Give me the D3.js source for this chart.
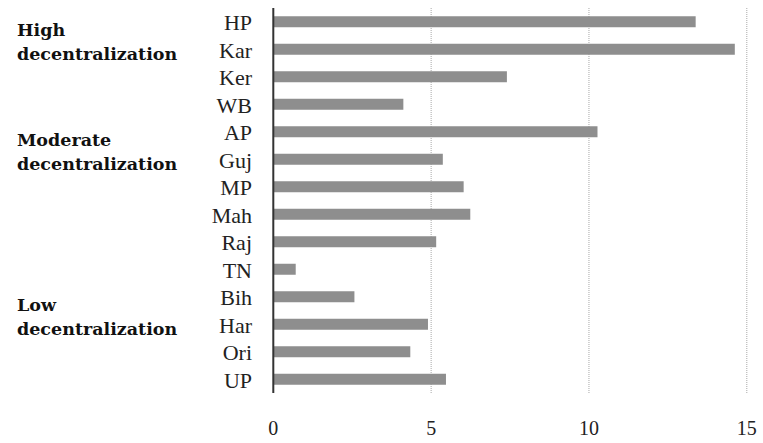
<!DOCTYPE html>
<html>
  <head>
    <meta charset="utf-8">
    <style>
      body { margin: 0; background: #fff; }
      .grid line { stroke: #a8a8a8; stroke-width: 1; stroke-dasharray: 1,1; }
      .cat text { font-family: "Liberation Serif", serif; font-size: 22px; fill: #222; }
      .ticks text { font-family: "Liberation Serif", serif; font-size: 20px; fill: #222; }
      .group text { font-family: "DejaVu Serif", serif; font-weight: bold; font-size: 17.5px; fill: #111; }
    </style>
  </head>
  <body>
    <svg width="763" height="443"></svg>
    <script src="https://d3js.org/d3.v7.min.js"></script>
    <script>
      var states = ["HP", "Kar", "Ker", "WB", "AP", "Guj", "MP", "Mah", "Raj", "TN", "Bih", "Har", "Ori", "UP"];
      var values = [13.38, 14.62, 7.40, 4.12, 10.27, 5.37, 6.03, 6.24, 5.16, 0.71, 2.57, 4.90, 4.34, 5.47];
      var xTicks = [0, 5, 10, 15];
      var groupNames = ["High", "Moderate", "Low"];
      var groupStart = ["HP", "AP", "Bih"];

      var svg = d3.select("svg");

      var x = d3.scaleLinear().domain([0, 15]).range([273.3, 746.8]);
      var y = d3.scaleBand().domain(states).range([8, 393]).paddingInner(0.6).paddingOuter(0.3);

      // dotted vertical grid
      svg.append("g")
        .attr("class", "grid")
        .selectAll("line")
        .data(xTicks.filter(function(d) { return d > 0; }))
        .enter().append("line")
        .attr("x1", function(d) { return x(d); })
        .attr("x2", function(d) { return x(d); })
        .attr("y1", 8)
        .attr("y2", 393);

      svg.append("g")
        .selectAll("rect")
        .data(values)
        .enter().append("rect")
        .attr("x", x(0))
        .attr("y", function(d, i) { return y(states[i]); })
        .attr("width", function(d) { return x(d) - x(0); })
        .attr("height", y.bandwidth())
        .attr("fill", "#8e8e8e");

      // vertical axis line
      svg.append("line")
        .attr("x1", x(0)).attr("x2", x(0))
        .attr("y1", 8).attr("y2", 393)
        .attr("stroke", "#333")
        .attr("stroke-width", 2);

      svg.append("g")
        .attr("class", "cat")
        .selectAll("text")
        .data(states)
        .enter().append("text")
        .attr("x", 252)
        .attr("y", function(d) { return y(d) + y.bandwidth() / 2 + 8.5; })
        .attr("text-anchor", "end")
        .text(function(d) { return d; });

      svg.append("g")
        .attr("class", "ticks")
        .selectAll("text")
        .data(xTicks)
        .enter().append("text")
        .attr("x", function(d) { return x(d); })
        .attr("y", 435)
        .attr("text-anchor", "middle")
        .text(function(d) { return d; });

      var g = svg.append("g").attr("class", "group");
      groupNames.forEach(function(name, i) {
        var base = y(groupStart[i]) + y.bandwidth() / 2 + y.step() / 2;
        g.append("text").attr("x", 17).attr("y", base).text(name);
        g.append("text").attr("x", 17).attr("y", base + 24).text("decentralization");
      });
    </script>
  </body>
</html>
